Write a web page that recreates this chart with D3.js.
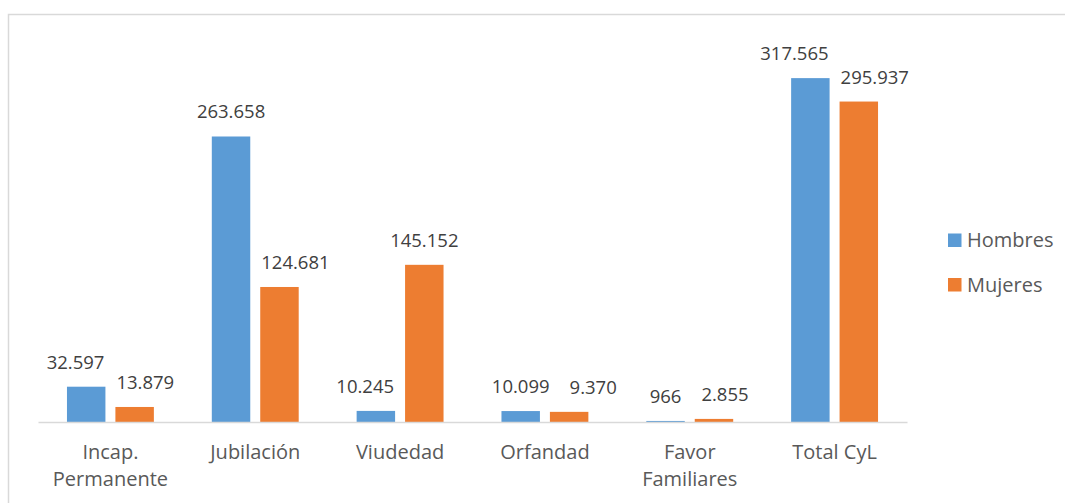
<!DOCTYPE html>
<html><head><meta charset="utf-8">
<script src="https://cdn.jsdelivr.net/npm/d3@7"></script>
<style>body{margin:0;background:#fff;} svg{display:block;}</style>
</head><body>
<svg id="c" width="1065" height="503"></svg>
<script>
const categories = [["Incap.","Permanente"],["Jubilación"],["Viudedad"],["Orfandad"],["Favor","Familiares"],["Total CyL"]];
const categoryKeys = ["Incap. Permanente","Jubilación","Viudedad","Orfandad","Favor Familiares","Total CyL"];
const seriesNames = ["Hombres","Mujeres"];
const hombres = [32597, 263658, 10245, 10099, 966, 317565];
const mujeres = [13879, 124681, 145152, 9370, 2855, 295937];
const labelsH = ["32.597","263.658","10.245","10.099","966","317.565"];
const labelsM = ["13.879","124.681","145.152","9.370","2.855","295.937"];
const colors = ["#5B9BD5","#ED7D31"];

const svg = d3.select("#c");
svg.append("rect").attr("x",8.5).attr("y",14.5).attr("width",1100).attr("height",600)
  .attr("fill","#fff").attr("stroke","#d9d9d9").attr("stroke-width",1.5);

const x0 = d3.scaleBand().domain(categoryKeys).range([38,907]).paddingInner(0.4).paddingOuter(0.2);
const x1 = d3.scaleBand().domain(seriesNames).range([0,x0.bandwidth()]).paddingInner(0.206);
const y = d3.scaleLinear().domain([0,350000]).range([422,43]);

const data = categoryKeys.map((k,i)=>({k, vals:[
  {s:"Hombres", v:hombres[i], lab:labelsH[i]},
  {s:"Mujeres", v:mujeres[i], lab:labelsM[i]}]}));

const g = svg.append("g");
const groups = g.selectAll("g.cat").data(data).join("g").attr("transform",d=>`translate(${x0(d.k)},0)`);
groups.selectAll("rect").data(d=>d.vals).join("rect")
  .attr("x",d=>x1(d.s)).attr("width",x1.bandwidth())
  .attr("y",d=>y(d.v)).attr("height",d=>y(0)-y(d.v))
  .attr("fill",(d,i)=>colors[i]);

// data labels with simple overlap avoidance
const PAD = 11, GAP = 20, LIFT = 18;
groups.each(function(d){
  const grp = d3.select(this);
  const bars = d.vals.map(v=>({l:x1(v.s), r:x1(v.s)+x1.bandwidth(), top:y(v.v)}));
  const labs = d.vals.map((v,i)=>{
    const t = grp.append("text").attr("text-anchor","middle").attr("font-family","Open Sans")
      .attr("font-size",18.5).attr("fill","#404040").text(v.lab);
    const w = t.node().getComputedTextLength();
    const cx = (bars[i].l+bars[i].r)/2, base = bars[i].top - LIFT;
    return {t, w, cx, base, top: base-16, bot: base+4};
  });
  const [A,B] = labs;
  // orange label against blue bar
  if (B.bot > bars[0].top && B.cx - B.w/2 < bars[0].r + PAD) {
    const shift = bars[0].r + PAD + B.w/2 - B.cx;
    B.cx += shift;
    // neighbouring label just above: spread symmetrically
    if (Math.abs(B.base - A.base) < 30) A.cx -= shift;
  }
  // blue label against orange bar
  if (A.bot > bars[1].top && A.cx + A.w/2 > bars[1].l - PAD) A.cx = bars[1].l - PAD - A.w/2;
  // labels against each other
  if (A.bot > B.top && B.bot > A.top && A.cx + A.w/2 + GAP > B.cx - B.w/2) B.cx = A.cx + A.w/2 + GAP + B.w/2;
  labs.forEach(L=>L.t.attr("x",L.cx).attr("y",L.base));
});

// axis
const ax = svg.append("g").attr("transform",`translate(0,${y(0)})`)
  .call(d3.axisBottom(x0).tickSize(0).tickFormat(""));
ax.select(".domain").attr("stroke","#d9d9d9").attr("stroke-width",1.5);
ax.selectAll(".tick").each(function(d,i){
  const t = d3.select(this).append("text").attr("fill","#595959")
    .attr("font-family","Open Sans").attr("font-size",20).attr("text-anchor","middle");
  categories[i].forEach((line,j)=>{
    t.append("tspan").attr("x",0).attr("y",37+j*27).text(line);
  });
});

// legend
const leg = svg.append("g");
seriesNames.forEach((s,i)=>{
  leg.append("rect").attr("x",948).attr("y",233.5+i*44.5).attr("width",13.5).attr("height",13.5).attr("fill",colors[i]);
  leg.append("text").attr("x",967).attr("y",247+i*44.5).attr("font-family","Open Sans").attr("font-size",20)
    .attr("fill","#595959").text(s);
});
</script>
</body></html>
